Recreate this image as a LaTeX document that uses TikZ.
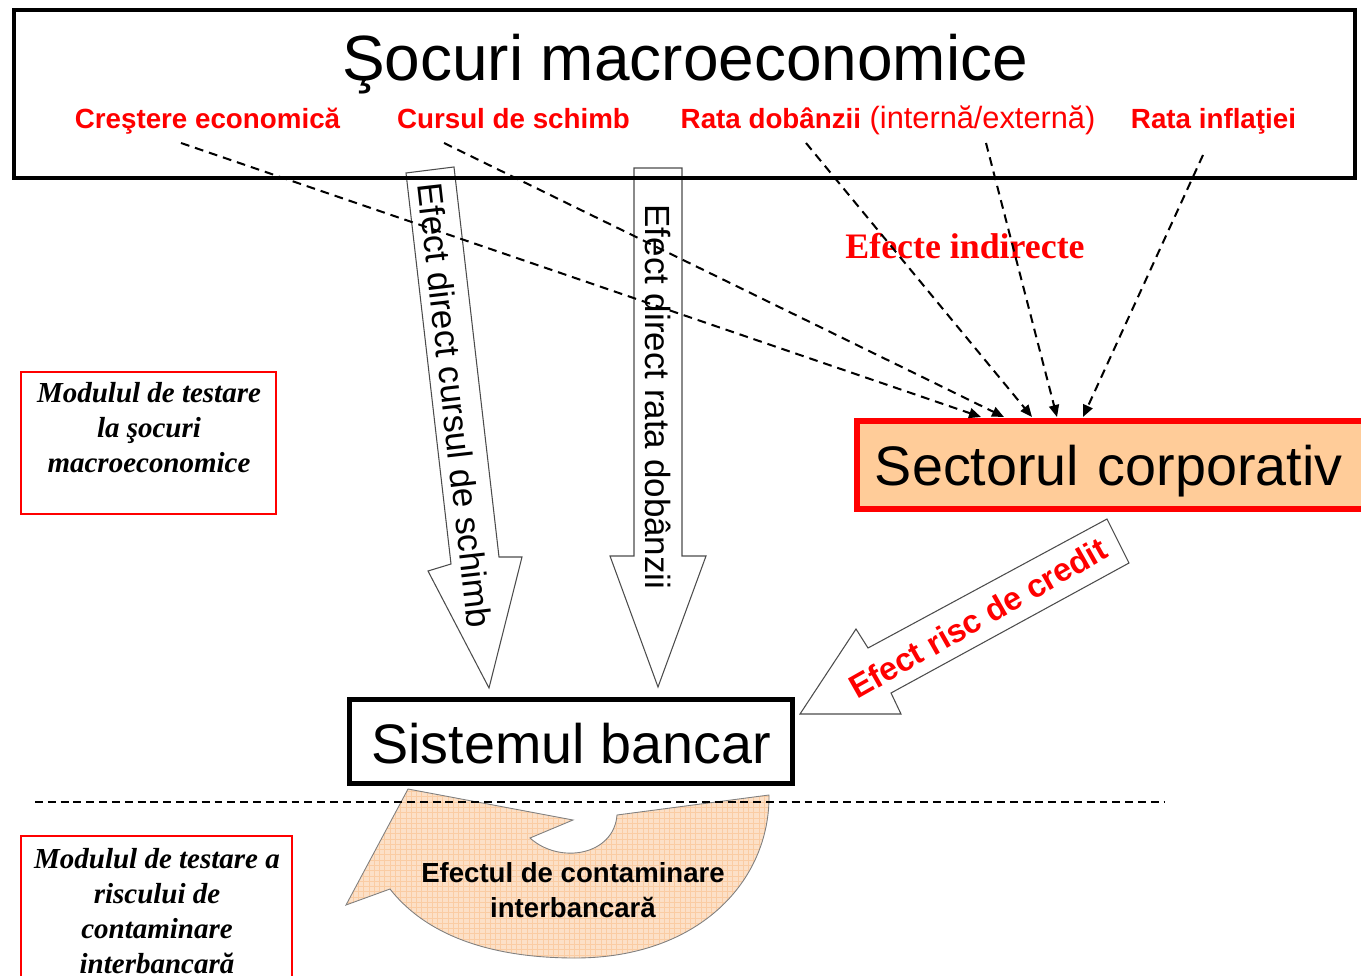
\documentclass[tikz,border=0pt]{standalone}
\usepackage{fontspec}
\setmainfont{Liberation Sans}
\newfontfamily\timesfont{Liberation Serif}
\usetikzlibrary{arrows.meta,positioning,patterns}
\definecolor{corporange}{rgb}{1.0, 0.8, 0.6}
\definecolor{contpeach}{rgb}{0.99, 0.88, 0.78}
\definecolor{contgrid}{rgb}{0.98, 0.80, 0.64}

\tikzset{
  shocklabel/.style={text=red, font=\fontsize{15.8}{19}\selectfont\bfseries, anchor=base, inner sep=0pt},
  bigbox/.style={draw, line width=2.85pt, inner sep=0pt, font=\fontsize{31.7}{36}\selectfont},
  modbox/.style={draw=red, line width=1.15pt},
  modtext/.style={align=center, inner sep=0pt, font=\timesfont\bfseries\itshape\fontsize{16.5}{19.9}\selectfont},
  dashlink/.style={line width=1.15pt, dash pattern=on 5pt off 3.4pt, -{Triangle[length=6.8pt,width=5.7pt]}},
  blockarrow/.style={draw=black!70, line width=0.6pt, fill=white},
  arrowtext/.style={font=\fontsize{19.9}{24}\selectfont, inner sep=0pt},
}

\begin{document}
\begin{tikzpicture}[x=0.02cm, y=-0.02cm]
    \useasboundingbox (0,0) rectangle (1361,976);

    % Block arrows (the frame is drawn over them)
    \draw[blockarrow] (406,173) -- (454,167) -- (499,557) -- (522,557) -- (489,688) -- (428,571) -- (451,564) -- cycle;
    \draw[blockarrow] (634,168) -- (682,168) -- (682,556) -- (706,556) -- (658,687) -- (610,556) -- (634,556) -- cycle;
    \draw[blockarrow] (1107,519) -- (868,648) -- (856,629) -- (800,714) -- (901,714) -- (891,693) -- (1129,563) -- cycle;

    \node[arrowtext, rotate=-83.5] (efcurs) at (455,405) {Efect direct cursul de schimb};
    \node[arrowtext, rotate=-90] (efrata) at (658,397) {Efect direct rata dobânzii};
    \node[arrowtext, rotate=29.5, text=red, font=\fontsize{18.5}{22}\selectfont\bfseries] (efrisc) at (978,618) {Efect risc de credit};

    % Macroeconomic shocks
    \node[draw, line width=2.3pt, minimum width=26.82cm, minimum height=3.36cm] (shocks) at (684.5,94) {};
    \node[anchor=base, font=\fontsize{36.4}{40}\selectfont] (title) at (685,81) {Şocuri macroeconomice};

    \node[shocklabel] (crestere) at (207.5,129) {Creştere economică};
    \node[shocklabel] (curs) at (513.5,129) {Cursul de schimb};
    \node[shocklabel] (dobanda) at (888,129) {Rata dobânzii\mdseries\fontsize{17.5}{19}\selectfont{} (internă/externă)};
    \node[shocklabel] (inflatie) at (1213.5,129) {Rata inflaţiei};

    \node[anchor=base, text=red, font=\timesfont\bfseries\fontsize{20.4}{24}\selectfont] (efind) at (965,259) {Efecte indirecte};

    % Corporate sector and banking system
    \node[bigbox, draw=red, line width=3.4pt, fill=corporange, anchor=west, inner xsep=0.36cm,
          text width=9.8cm, minimum height=1.76cm, text height=22.8pt, text depth=0pt] (corp) at (854,465) {Sectorul corporativ};
    \node[bigbox, minimum width=8.86cm, minimum height=1.68cm, text height=25.6pt, text depth=0pt] (banc) at (571,741.5) {Sistemul bancar};

    % Indirect effects
    \coordinate (s1) at (181,143);
    \coordinate (s2) at (444,143);
    \coordinate (s3) at (806,143);
    \coordinate (s4) at (986,143);
    \coordinate (s5) at (1203,155);
    \coordinate (e1) at (981,417);
    \coordinate (e2) at (1004,417);
    \coordinate (e3) at (1032,417);
    \coordinate (e4) at (1057,417);
    \coordinate (e5) at (1083,417);
    \draw[dashlink] (s1) -- (e1);
    \draw[dashlink] (s2) -- (e2);
    \draw[dashlink] (s3) -- (e3);
    \draw[dashlink] (s4) -- (e4);
    \draw[dashlink] (s5) -- (e5);

    % Interbank contagion
    \draw[draw=black!50, line width=0.5pt, preaction={fill=contpeach}, pattern=grid, pattern color=contgrid]
        (769,795) -- (617,815) .. controls (614,855) and (560,865) .. (530,838) -- (573,820) -- (408,789)
        -- (346,905) -- (390,889) .. controls (430,940) and (500,958) .. (575,958)
        .. controls (700,958) and (770,880) .. (769,795) -- cycle;
    \node[align=center, inner sep=0pt, font=\fontsize{15.7}{20}\selectfont\bfseries] (contam) at (573,890) {Efectul de contaminare\\interbancară};

    \draw[line width=1.1pt, dash pattern=on 4.5pt off 2.8pt] (35,802) -- (1165,802);

    % Testing modules
    \node[modbox, minimum width=5.1cm, minimum height=2.84cm] (modshock) at (148.5,443) {};
    \node[modtext] (modshocktxt) at (149,428) {Modulul de testare\\la şocuri\\macroeconomice};
    \node[modbox, minimum width=5.42cm, minimum height=3.08cm] (modcont) at (156.5,913) {};
    \node[modtext] (modconttxt) at (157,911) {Modulul de testare a\\riscului de\\contaminare\\interbancară};
\end{tikzpicture}
\end{document}
